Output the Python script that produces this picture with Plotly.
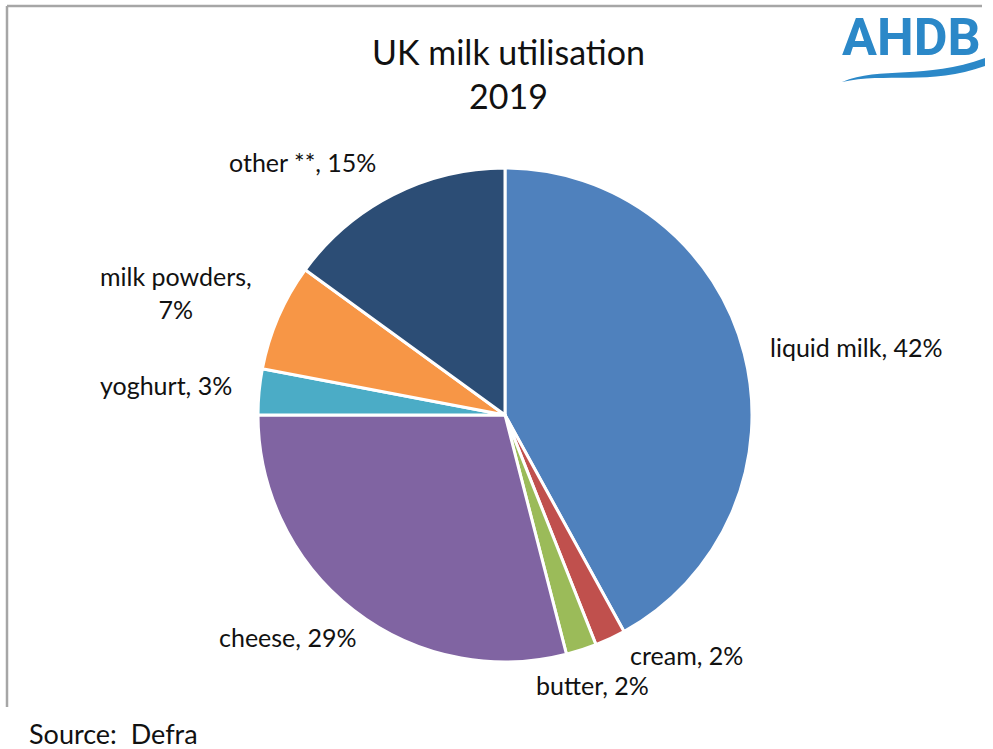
import plotly.graph_objects as go

# UK milk utilisation, 2019 (share of milk volume, %)
categories = ["liquid milk", "cream", "butter", "cheese", "yoghurt", "milk powders", "other **"]
shares = [42, 2, 2, 29, 3, 7, 15]
colors = ["#4F81BD", "#C0504D", "#9BBB59", "#8064A2", "#4BACC6", "#F79646", "#2C4D75"]

W, H = 993, 749


def px(x):
    return x / W


def py(y):
    return 1 - y / H


# pie centre and radius in pixels
cx, cy, r = 505, 415, 247

fig = go.Figure(
    go.Pie(
        labels=categories,
        values=shares,
        sort=False,
        direction="clockwise",
        rotation=0,
        marker=dict(colors=colors, line=dict(color="white", width=3)),
        textinfo="none",
        hoverinfo="label+percent",
        showlegend=False,
        domain=dict(x=[px(cx - r), px(cx + r)], y=[py(cy + r), py(cy - r)]),
    )
)

# data label placement: (x, y, xanchor) in pixels
label_pos = {
    "liquid milk": (768, 347, "left"),
    "cream": (628, 655, "left"),
    "butter": (592, 685, "center"),
    "cheese": (358, 637, "right"),
    "yoghurt": (234, 385, "right"),
    "milk powders": (176, 292, "center"),
    "other **": (378, 162, "right"),
}
wrapped = {"milk powders"}

FONT = "Lato, Open Sans, sans-serif"
label_font = dict(family=FONT, size=25, color="#111111")
annotations = []
total = sum(shares)
for cat, v in zip(categories, shares):
    pct = round(100 * v / total)
    sep = ",<br>" if cat in wrapped else ", "
    x, y, anchor = label_pos[cat]
    annotations.append(dict(
        text=f"{cat}{sep}{pct}%", x=px(x), y=py(y), xref="paper", yref="paper",
        xanchor=anchor, yanchor="middle", showarrow=False, align="center",
        font=label_font,
    ))

# chart title
annotations.append(dict(
    text="UK milk utilisation<br>2019", x=px(508), y=py(73), xref="paper", yref="paper",
    xanchor="center", yanchor="middle", showarrow=False, align="center",
    font=dict(family=FONT, size=34, color="#111111"),
))

# source note
annotations.append(dict(
    text="Source:  Defra", x=px(27), y=py(733), xref="paper", yref="paper",
    xanchor="left", yanchor="middle", showarrow=False,
    font=dict(family=FONT, size=27, color="#111111"),
))

# AHDB logo wordmark
logo_blue = "#2B88C8"
annotations.append(dict(
    text="<b>AHDB</b>", x=px(911), y=py(37), xref="paper", yref="paper",
    xanchor="center", yanchor="middle", showarrow=False,
    font=dict(family="Roboto, Liberation Sans, sans-serif", size=52, color=logo_blue),
))

shapes = [
    # chart-area frame (top and left edges)
    dict(type="line", xref="paper", yref="paper", x0=px(7), x1=px(982), y0=py(6), y1=py(6),
         line=dict(color="#A6A6A6", width=2.5)),
    dict(type="line", xref="paper", yref="paper", x0=px(7), x1=px(7), y0=py(6), y1=py(707),
         line=dict(color="#A6A6A6", width=2.5)),
    # logo swoosh
    dict(type="path", xref="paper", yref="paper",
         path=(f"M {px(842)},{py(82)} "
               f"C {px(880)},{py(66)} {px(925)},{py(80)} {px(985)},{py(58)} "
               f"L {px(985)},{py(66)} "
               f"C {px(930)},{py(86)} {px(885)},{py(72)} {px(842)},{py(82)} Z"),
         fillcolor=logo_blue, line=dict(width=0)),
]

fig.update_layout(
    width=W, height=H,
    margin=dict(l=0, r=0, t=0, b=0),
    paper_bgcolor="white",
    plot_bgcolor="white",
    annotations=annotations,
    shapes=shapes,
)

fig.write_html("out.html")
